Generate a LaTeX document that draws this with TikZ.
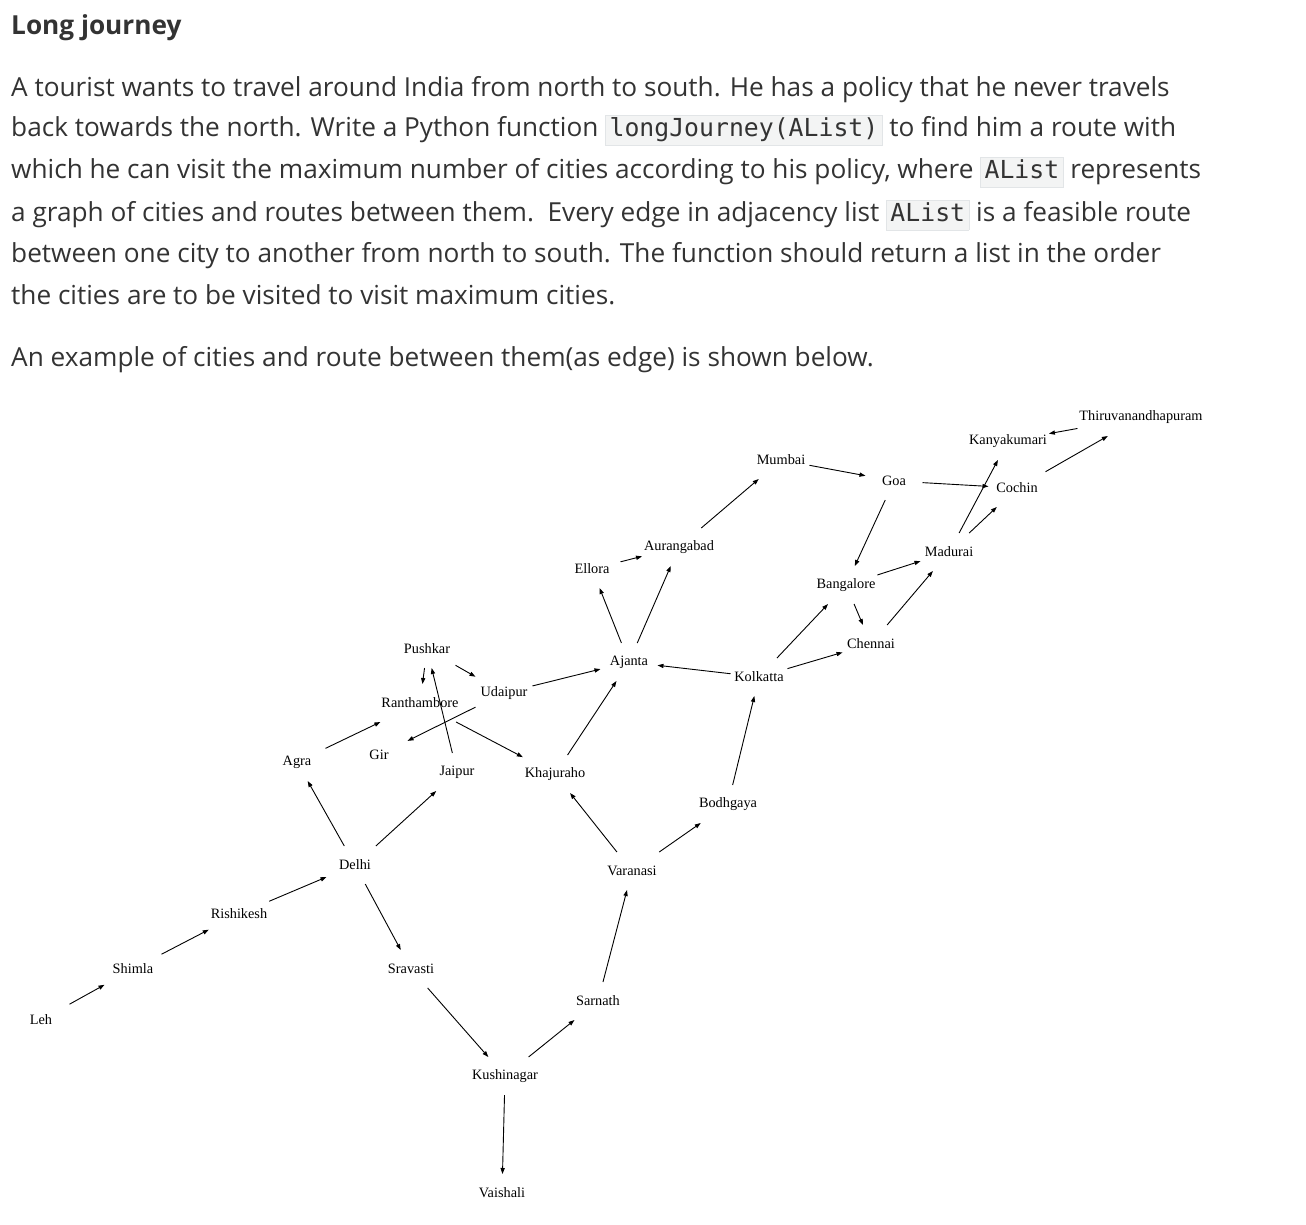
\documentclass[tikz,border=0pt]{standalone}
\usepackage{fontspec}
\setmainfont{Open Sans}
\setmonofont{DejaVu Sans Mono}
\newfontfamily\cityfont{Liberation Serif}
\usetikzlibrary{arrows.meta}

\definecolor{txt}{HTML}{333333}
\definecolor{codebg}{HTML}{F3F4F4}
\definecolor{codeline}{HTML}{E2E5E7}
\newcommand{\code}[1]{{\setlength{\fboxsep}{1.3pt}\setlength{\fboxrule}{0.8pt}%
  \fcolorbox{codeline}{codebg}{\kern2.2pt\fontsize{24.8}{24.8}\selectfont\ttfamily\strut #1\kern2.2pt}}}

\begin{document}
\begin{tikzpicture}[x=1pt,y=-1pt,
    para/.style={anchor=base west,inner sep=0pt,text=txt,font=\fontsize{26.2}{30}\selectfont},
    title/.style={para,font=\fontsize{26.2}{30}\selectfont\bfseries},
    city/.style={rectangle,minimum width=57pt,minimum height=38pt,inner xsep=2pt,inner ysep=0pt,
        outer sep=0pt,font=\cityfont\fontsize{14.3}{16}\selectfont},
    edge/.style={line width=0.9pt,-{Triangle[length=6pt,width=4.2pt]}}]
        \useasboundingbox (0,0) rectangle (1306,1224);

        \node[title] (head) at (11,34) {Long journey};
        \node[para] (l1) at (11,96) {A tourist wants to travel around India from north to south. He has a policy that he never travels};
        \node[para] (l2) at (11,136) {back towards the north. Write a Python function \code{longJourney(AList)} to find him a route with};
        \node[para] (l3) at (11,178) {which he can visit the maximum number of cities according to his policy, where \code{AList} represents};
        \node[para] (l4) at (11,221) {a graph of cities and routes between them.\ \ Every edge in adjacency list \code{AList} is a feasible route};
        \node[para] (l5) at (11,262) {between one city to another from north to south. The function should return a list in the order};
        \node[para] (l6) at (11,304) {the cities are to be visited to visit maximum cities.};
        \node[para] (l7) at (11,366) {An example of cities and route between them(as edge) is shown below.};

        \node[city] (Leh)         at (41,1020)  {Leh};
        \node[city] (Shimla)      at (133,969)  {Shimla};
        \node[city] (Rishikesh)   at (239,914)  {Rishikesh};
        \node[city] (Delhi)       at (355,865)  {Delhi};
        \node[city] (Agra)        at (297,762)  {Agra};
        \node[city] (Gir)         at (379,755)  {Gir};
        \node[city] (Jaipur)      at (457,772)  {Jaipur};
        \node[city] (Ranthambore) at (420,703)  {Ranthambore};
        \node[city] (Pushkar)     at (427,649)  {Pushkar};
        \node[city] (Udaipur)     at (504,693)  {Udaipur};
        \node[city] (Khajuraho)   at (555,774)  {Khajuraho};
        \node[city] (Ajanta)      at (629,662)  {Ajanta};
        \node[city] (Ellora)      at (592,569)  {Ellora};
        \node[city] (Aurangabad)  at (679,547)  {Aurangabad};
        \node[city] (Mumbai)      at (781,460)  {Mumbai};
        \node[city] (Goa)         at (894,481)  {Goa};
        \node[city] (Kolkatta)    at (759,677)  {Kolkatta};
        \node[city] (Bodhgaya)    at (728,804)  {Bodhgaya};
        \node[city] (Varanasi)    at (632,871)  {Varanasi};
        \node[city] (Sravasti)    at (411,969)  {Sravasti};
        \node[city] (Kushinagar)  at (505,1076) {Kushinagar};
        \node[city] (Sarnath)     at (598,1001) {Sarnath};
        \node[city] (Vaishali)    at (502,1193) {Vaishali};
        \node[city] (Bangalore)   at (846,585)  {Bangalore};
        \node[city] (Chennai)     at (871,644)  {Chennai};
        \node[city] (Madurai)     at (949,552)  {Madurai};
        \node[city] (Cochin)      at (1017,488) {Cochin};
        \node[city] (Kanyakumari) at (1008,441) {Kanyakumari};
        \node[city] (Thiru)       at (1141,417) {Thiruvanandhapuram};

        \foreach \a/\b in {Leh/Shimla, Shimla/Rishikesh, Rishikesh/Delhi,
            Delhi/Agra, Delhi/Jaipur, Delhi/Sravasti, Agra/Ranthambore,
            Jaipur/Pushkar, Pushkar/Ranthambore, Pushkar/Udaipur, Udaipur/Gir,
            Ranthambore/Khajuraho, Udaipur/Ajanta, Khajuraho/Ajanta,
            Ajanta/Ellora, Ajanta/Aurangabad, Ellora/Aurangabad,
            Aurangabad/Mumbai, Mumbai/Goa, Goa/Cochin, Goa/Bangalore,
            Kolkatta/Ajanta, Kolkatta/Bangalore, Kolkatta/Chennai,
            Bangalore/Chennai, Bangalore/Madurai, Chennai/Madurai,
            Madurai/Kanyakumari, Madurai/Cochin, Cochin/Thiru, Thiru/Kanyakumari,
            Bodhgaya/Kolkatta, Varanasi/Khajuraho, Varanasi/Bodhgaya,
            Sarnath/Varanasi, Sravasti/Kushinagar, Kushinagar/Sarnath,
            Kushinagar/Vaishali}
            \draw[edge] (\a) -- (\b);
    \end{tikzpicture}
\end{document}
